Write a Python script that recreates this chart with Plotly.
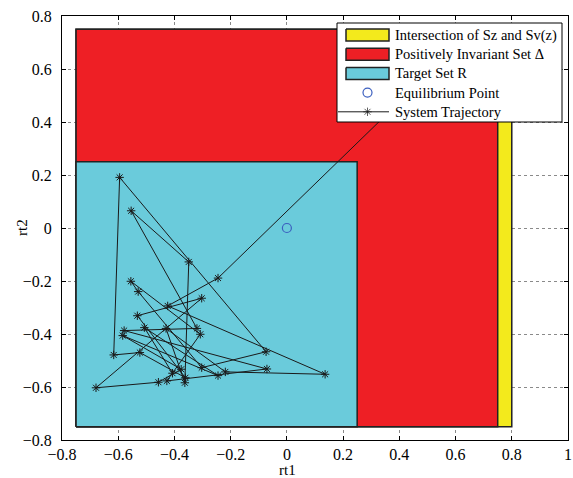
import plotly.graph_objects as go

# Set bounds [x0, x1, y0, y1]
intersection_set = [-0.75, 0.80, -0.75, 0.75]
invariant_set = [-0.75, 0.75, -0.75, 0.75]
target_set = [-0.75, 0.25, -0.75, 0.25]

equilibrium_x = [0.0]
equilibrium_y = [0.0]

traj_x = [0.55, -0.245, -0.424, 0.136, -0.219, -0.430, -0.363, -0.349, -0.554, -0.320,
          -0.579, -0.071, -0.427, -0.308, -0.555, -0.529, -0.303, -0.074, -0.595, -0.616,
          -0.523, -0.361, -0.532, -0.303, -0.679, -0.457, -0.376, -0.584, -0.245, -0.507,
          -0.407]
traj_y = [0.63, -0.189, -0.294, -0.552, -0.543, -0.379, -0.584, -0.128, 0.065, -0.379,
          -0.387, -0.532, -0.577, -0.401, -0.201, -0.240, -0.527, -0.467, 0.191, -0.479,
          -0.470, -0.565, -0.331, -0.265, -0.603, -0.582, -0.533, -0.406, -0.557, -0.376,
          -0.548]

x_ticks = [-0.8, -0.6, -0.4, -0.2, 0, 0.2, 0.4, 0.6, 0.8, 1]
y_ticks = [-0.8, -0.6, -0.4, -0.2, 0, 0.2, 0.4, 0.6, 0.8]

legend_names = ["Intersection of Sz and Sv(z)", "Positively Invariant Set \u0394",
                "Target Set R", "Equilibrium Point", "System Trajectory"]
set_colors = ["#f3ea1c", "#ee1f25", "#6acbdb"]
EDGE = "#222222"
TRAJ = "#1a1a1a"
EQ_COLOR = "#3b5fbf"

FONT = "Liberation Serif"

# plot area in pixels
L, R, T, B = 62, 568, 16, 440
W, H = 573, 478


def rect(b):
    x0, x1, y0, y1 = b
    return [x0, x1, x1, x0, x0], [y0, y0, y1, y1, y0]


fig = go.Figure()
for bounds, color in zip([intersection_set, invariant_set, target_set], set_colors):
    rx, ry = rect(bounds)
    fig.add_trace(go.Scatter(x=rx, y=ry, mode="lines", fill="toself", fillcolor=color,
                             line=dict(color=EDGE, width=1.5), showlegend=False,
                             hoverinfo="skip"))

fig.add_trace(go.Scatter(x=equilibrium_x, y=equilibrium_y, mode="markers",
                         marker=dict(symbol="circle-open", size=9, color=EQ_COLOR,
                                     line=dict(width=1.2)),
                         showlegend=False))
fig.add_trace(go.Scatter(x=traj_x, y=traj_y, mode="lines+markers",
                         line=dict(color=TRAJ, width=1),
                         marker=dict(symbol="asterisk-open", size=7, color=TRAJ,
                                     line=dict(width=1, color=TRAJ)),
                         showlegend=False))

# ---- legend box (drawn on an overlay axis measured in pixels) ----
lx0, lx1, ly0, ly1 = 337, 562, 23, 122
row_y = [35, 54.2, 73.4, 92.6, 111.8]
sw_x0, sw_x1, sw_h = 346, 389, 12
text_x = 393

bx, by = rect([lx0, lx1, ly0, ly1])
fig.add_trace(go.Scatter(x=bx, y=by, xaxis="x2", yaxis="y2", mode="lines", fill="toself",
                         fillcolor="white", line=dict(color="black", width=1),
                         showlegend=False, hoverinfo="skip"))
for i, color in enumerate(set_colors):
    sx, sy = rect([sw_x0, sw_x1, row_y[i] - sw_h / 2, row_y[i] + sw_h / 2])
    fig.add_trace(go.Scatter(x=sx, y=sy, xaxis="x2", yaxis="y2", mode="lines",
                             fill="toself", fillcolor=color,
                             line=dict(color=EDGE, width=1.5),
                             showlegend=False, hoverinfo="skip"))
fig.add_trace(go.Scatter(x=[(sw_x0 + sw_x1) / 2], y=[row_y[3]], xaxis="x2", yaxis="y2",
                         mode="markers",
                         marker=dict(symbol="circle-open", size=9, color=EQ_COLOR,
                                     line=dict(width=1.2)),
                         showlegend=False, hoverinfo="skip"))
fig.add_trace(go.Scatter(x=[sw_x0 - 8, (sw_x0 + sw_x1) / 2, sw_x1], y=[row_y[4]] * 3,
                         xaxis="x2", yaxis="y2", mode="lines+markers",
                         line=dict(color=TRAJ, width=1),
                         marker=dict(symbol="asterisk-open", size=[0, 7, 0], color=TRAJ,
                                     line=dict(width=1, color=TRAJ)),
                         showlegend=False, hoverinfo="skip"))

annotations = []
for i, name in enumerate(legend_names):
    annotations.append(dict(x=text_x, y=row_y[i], xref="x2", yref="y2", text=name,
                            showarrow=False, xanchor="left", yanchor="middle",
                            font=dict(family=FONT, size=14.5, color="black")))
annotations.append(dict(x=(287 - L) / (R - L), y=(B - 470) / (B - T), xref="paper",
                        yref="paper", text="rt1", showarrow=False,
                        xanchor="center", yanchor="middle",
                        font=dict(family=FONT, size=15, color="black")))
annotations.append(dict(x=(22 - L) / (R - L), y=0.5, xref="paper", yref="paper",
                        text="rt2", showarrow=False, textangle=-90,
                        xanchor="center", yanchor="middle",
                        font=dict(family=FONT, size=15, color="black")))

axis_common = dict(showgrid=True, gridcolor="#8a8a8a", griddash="dot", gridwidth=1,
                   zeroline=False, showline=True, linecolor="black", linewidth=1,
                   mirror="allticks", ticks="inside", ticklen=4, tickcolor="black",
                   automargin=False,
                   tickfont=dict(family=FONT, size=16, color="black"))

fig.update_layout(
    width=W, height=H,
    margin=dict(l=L, r=W - R, t=T, b=H - B),
    paper_bgcolor="white", plot_bgcolor="white",
    font=dict(family=FONT, size=15, color="black"),
    showlegend=False,
    xaxis=dict(range=[-0.8, 1], tickvals=x_ticks, ticklabelstandoff=0, **axis_common),
    yaxis=dict(range=[-0.8, 0.8], tickvals=y_ticks, ticklabelstandoff=6, **axis_common),
    xaxis2=dict(overlaying="x", range=[L, R], visible=False, fixedrange=True),
    yaxis2=dict(overlaying="y", range=[B, T], visible=False, fixedrange=True),
    annotations=annotations,
)

fig.write_html("out.html", config={"displayModeBar": False},
               post_script="document.body.style.margin='0';"
                           "document.body.style.padding='0';")
